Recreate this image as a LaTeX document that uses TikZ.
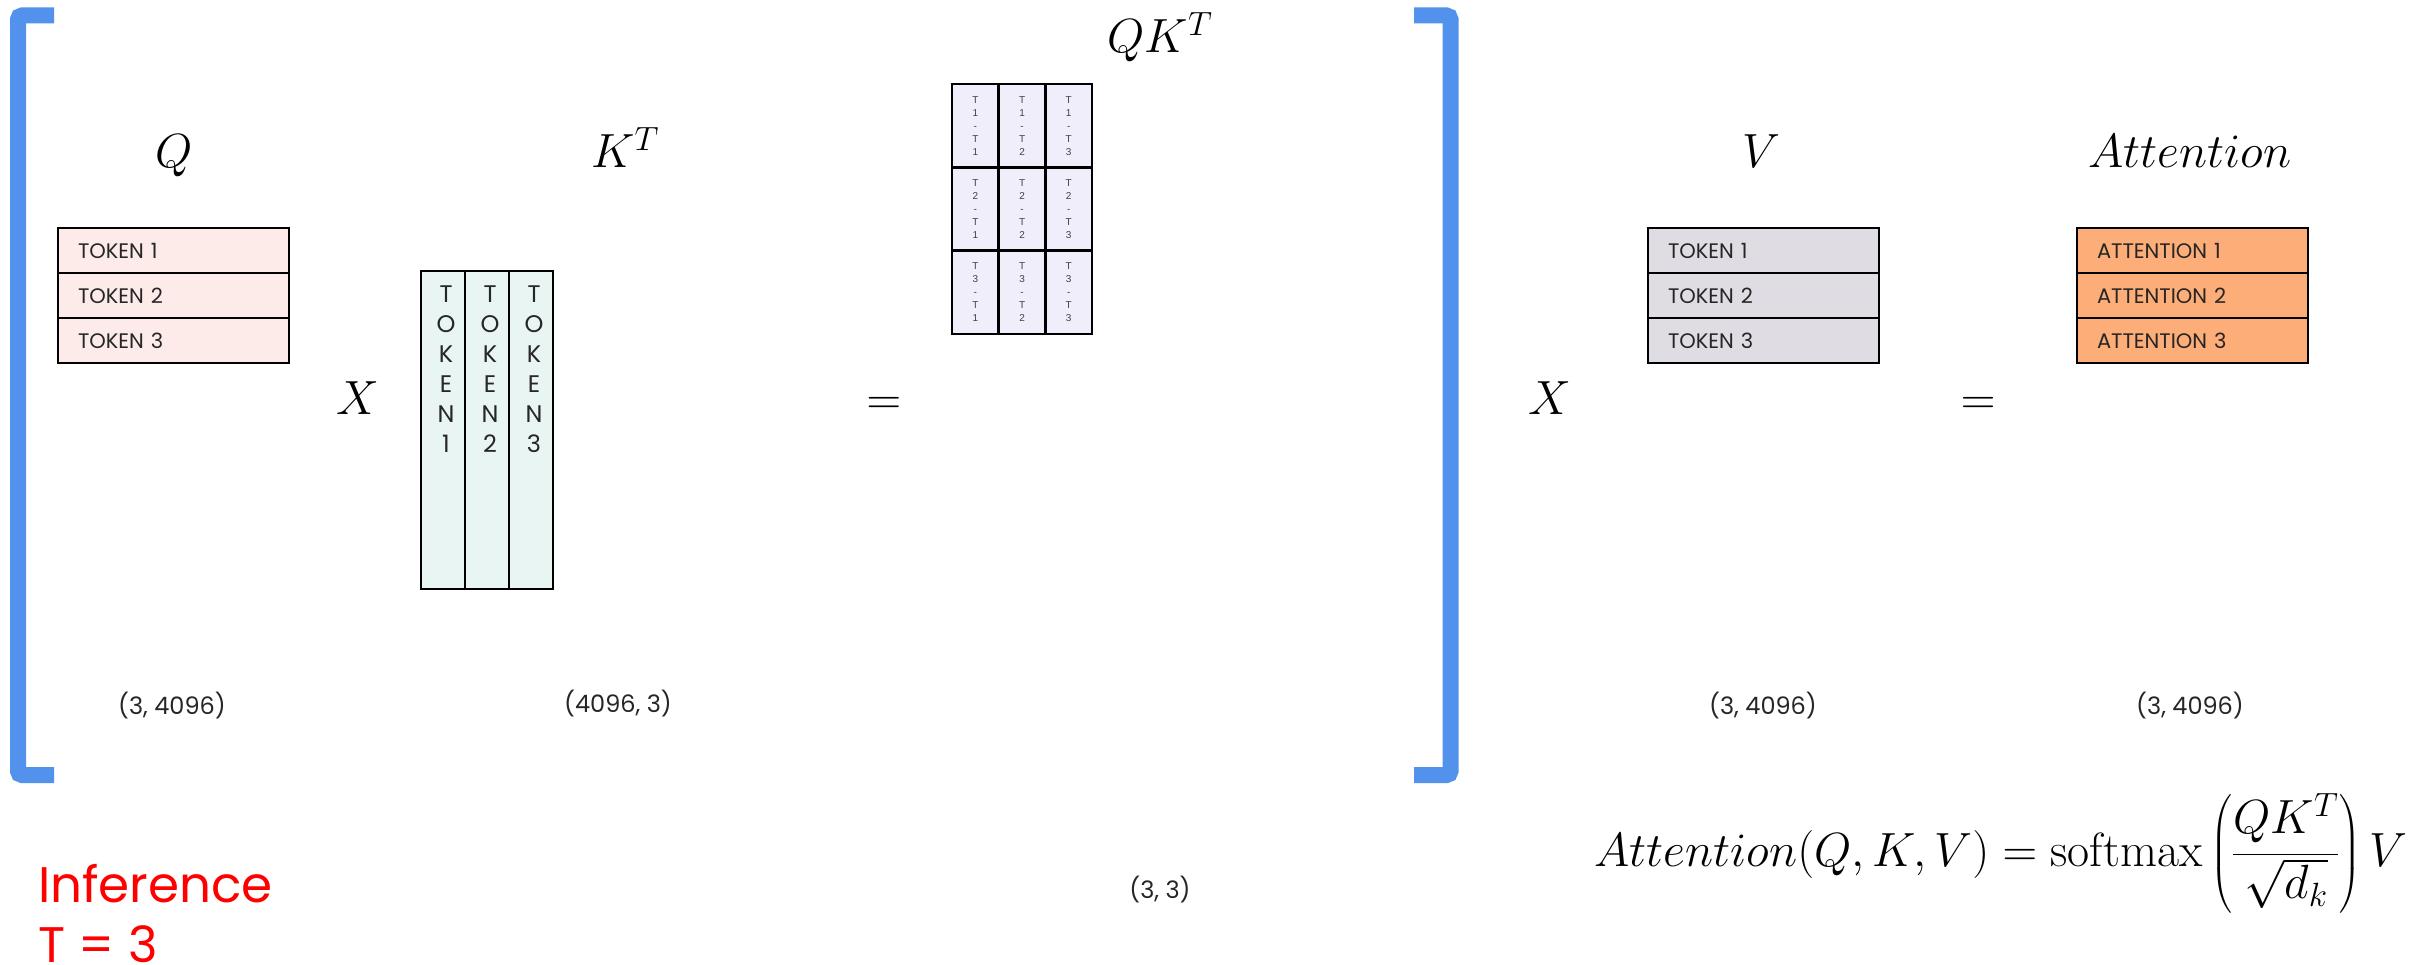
\documentclass[tikz,border=0pt]{standalone}
\usepackage{fix-cm}
\usepackage{amsmath}
\usepackage{fontspec}
\usepackage{tikz}
\usetikzlibrary{positioning}

\newfontfamily\popfont{Poppins}
\newfontfamily\arialfont{Liberation Sans}

\definecolor{brblue}{RGB}{82,145,236}
\definecolor{qfill}{RGB}{252,235,233}
\definecolor{kfill}{RGB}{233,245,242}
\definecolor{qkfill}{RGB}{241,238,252}
\definecolor{vfill}{RGB}{224,220,227}
\definecolor{afill}{RGB}{253,173,120}
\definecolor{infred}{RGB}{255,0,0}

\newcommand{\mathsz}{\fontsize{48}{54}\selectfont}

\tikzset{
    bluebracket/.style={draw=brblue, line width=16pt, rounded corners=4pt},
    rowbox/.style={draw, line width=2.5pt, outer sep=0pt, anchor=north west,
        minimum height=45pt, text width=191pt, inner xsep=20pt, inner ysep=0pt,
        align=left, font=\popfont\fontsize{21}{24}\selectfont, text=black!85},
    colbox/.style={draw, line width=2.5pt, outer sep=0pt, anchor=north west,
        minimum width=44pt, minimum height=318pt, inner sep=0pt, fill=kfill},
    vtext/.style={inner sep=0pt, align=center, text=black!85,
        font=\popfont\fontsize{24}{30}\selectfont},
    cellbox/.style={draw, line width=2.5pt, outer sep=0pt, anchor=north west,
        minimum width=46.7pt, minimum height=83.3pt, inner sep=0pt, fill=qkfill,
        align=center, text=black!75, font=\arialfont\fontsize{10}{13}\selectfont},
    mathlbl/.style={inner sep=0pt, anchor=base, font=\mathsz},
    dimlbl/.style={inner sep=0pt, text=black!85, font=\popfont\fontsize{24}{28}\selectfont},
    redlbl/.style={inner sep=0pt, anchor=base west, text=infred,
        font=\popfont\fontsize{50}{60}\selectfont}
}

\begin{document}
\begin{tikzpicture}[x=1pt, y=-1pt]
    \useasboundingbox (0,0) rectangle (2432,965);
    % brackets
    \draw[bluebracket] (54,15.5) -- (18,15.5) -- (18,775) -- (54,775);
    \draw[bluebracket] (1414,15.5) -- (1450.5,15.5) -- (1450.5,775) -- (1414,775);

    % Q
    \node[mathlbl] (qlbl) at (174,168) {$Q$};
    \node[rowbox, fill=qfill] (q1) at (58,228) {TOKEN 1};
    \node[rowbox, fill=qfill] (q2) at (58,273) {TOKEN 2};
    \node[rowbox, fill=qfill] (q3) at (58,318) {TOKEN 3};
    \node[dimlbl] (qdim) at (172,706) {(3, 4096)};

    \node[mathlbl] (x1) at (358,414) {$X$};

    % K transposed
    \node[mathlbl] (klbl) at (625,168) {$K^T$};
    \node[colbox] (k1) at (421,271) {};
    \node[colbox] (k2) at (465,271) {};
    \node[colbox] (k3) at (509,271) {};
    \node[vtext, below=15pt of k1.north, xshift=3pt] (k1t) {T\\O\\K\\E\\N\\1};
    \node[vtext, below=15pt of k2.north, xshift=3pt] (k2t) {T\\O\\K\\E\\N\\2};
    \node[vtext, below=15pt of k3.north, xshift=3pt] (k3t) {T\\O\\K\\E\\N\\3};
    \node[dimlbl] (kdim) at (618,704) {(4096, 3)};

    \node[mathlbl] (eq1) at (884,414) {$=$};

    % QK^T scores
    \node[mathlbl] (qklbl) at (1160,53) {$QK^T$};
    \node[cellbox] (c11) at (952,84) {T\\1\\-\\T\\1};
    \node[cellbox] (c12) at (998.7,84) {T\\1\\-\\T\\2};
    \node[cellbox] (c13) at (1045.3,84) {T\\1\\-\\T\\3};
    \node[cellbox] (c21) at (952,167.3) {T\\2\\-\\T\\1};
    \node[cellbox] (c22) at (998.7,167.3) {T\\2\\-\\T\\2};
    \node[cellbox] (c23) at (1045.3,167.3) {T\\2\\-\\T\\3};
    \node[cellbox] (c31) at (952,250.7) {T\\3\\-\\T\\1};
    \node[cellbox] (c32) at (998.7,250.7) {T\\3\\-\\T\\2};
    \node[cellbox] (c33) at (1045.3,250.7) {T\\3\\-\\T\\3};
    \node[dimlbl] (qkdim) at (1160,890) {(3, 3)};

    \node[mathlbl] (x2) at (1550,414) {$X$};

    % V
    \node[mathlbl] (vlbl) at (1761,168) {$V$};
    \node[rowbox, fill=vfill] (v1) at (1648,228) {TOKEN 1};
    \node[rowbox, fill=vfill] (v2) at (1648,273) {TOKEN 2};
    \node[rowbox, fill=vfill] (v3) at (1648,318) {TOKEN 3};
    \node[dimlbl] (vdim) at (1763,706) {(3, 4096)};

    \node[mathlbl] (eq2) at (1978,414) {$=$};

    % attention output
    \node[mathlbl] (albl) at (2190,168) {$Attention$};
    \node[rowbox, fill=afill] (a1) at (2077,228) {ATTENTION 1};
    \node[rowbox, fill=afill] (a2) at (2077,273) {ATTENTION 2};
    \node[rowbox, fill=afill] (a3) at (2077,318) {ATTENTION 3};
    \node[dimlbl] (adim) at (2190,706) {(3, 4096)};

    % formula and notes
    \node[mathlbl] (formula) at (2001,866)
        {$\displaystyle Attention(Q,K,V) = \mathrm{softmax}\left(\frac{QK^T}{\sqrt{d_k}}\right)V$};
    \node[redlbl] (inf) at (38,902) {Inference};
    \node[redlbl] (tval) at (38,962) {T = 3};
\end{tikzpicture}
\end{document}
